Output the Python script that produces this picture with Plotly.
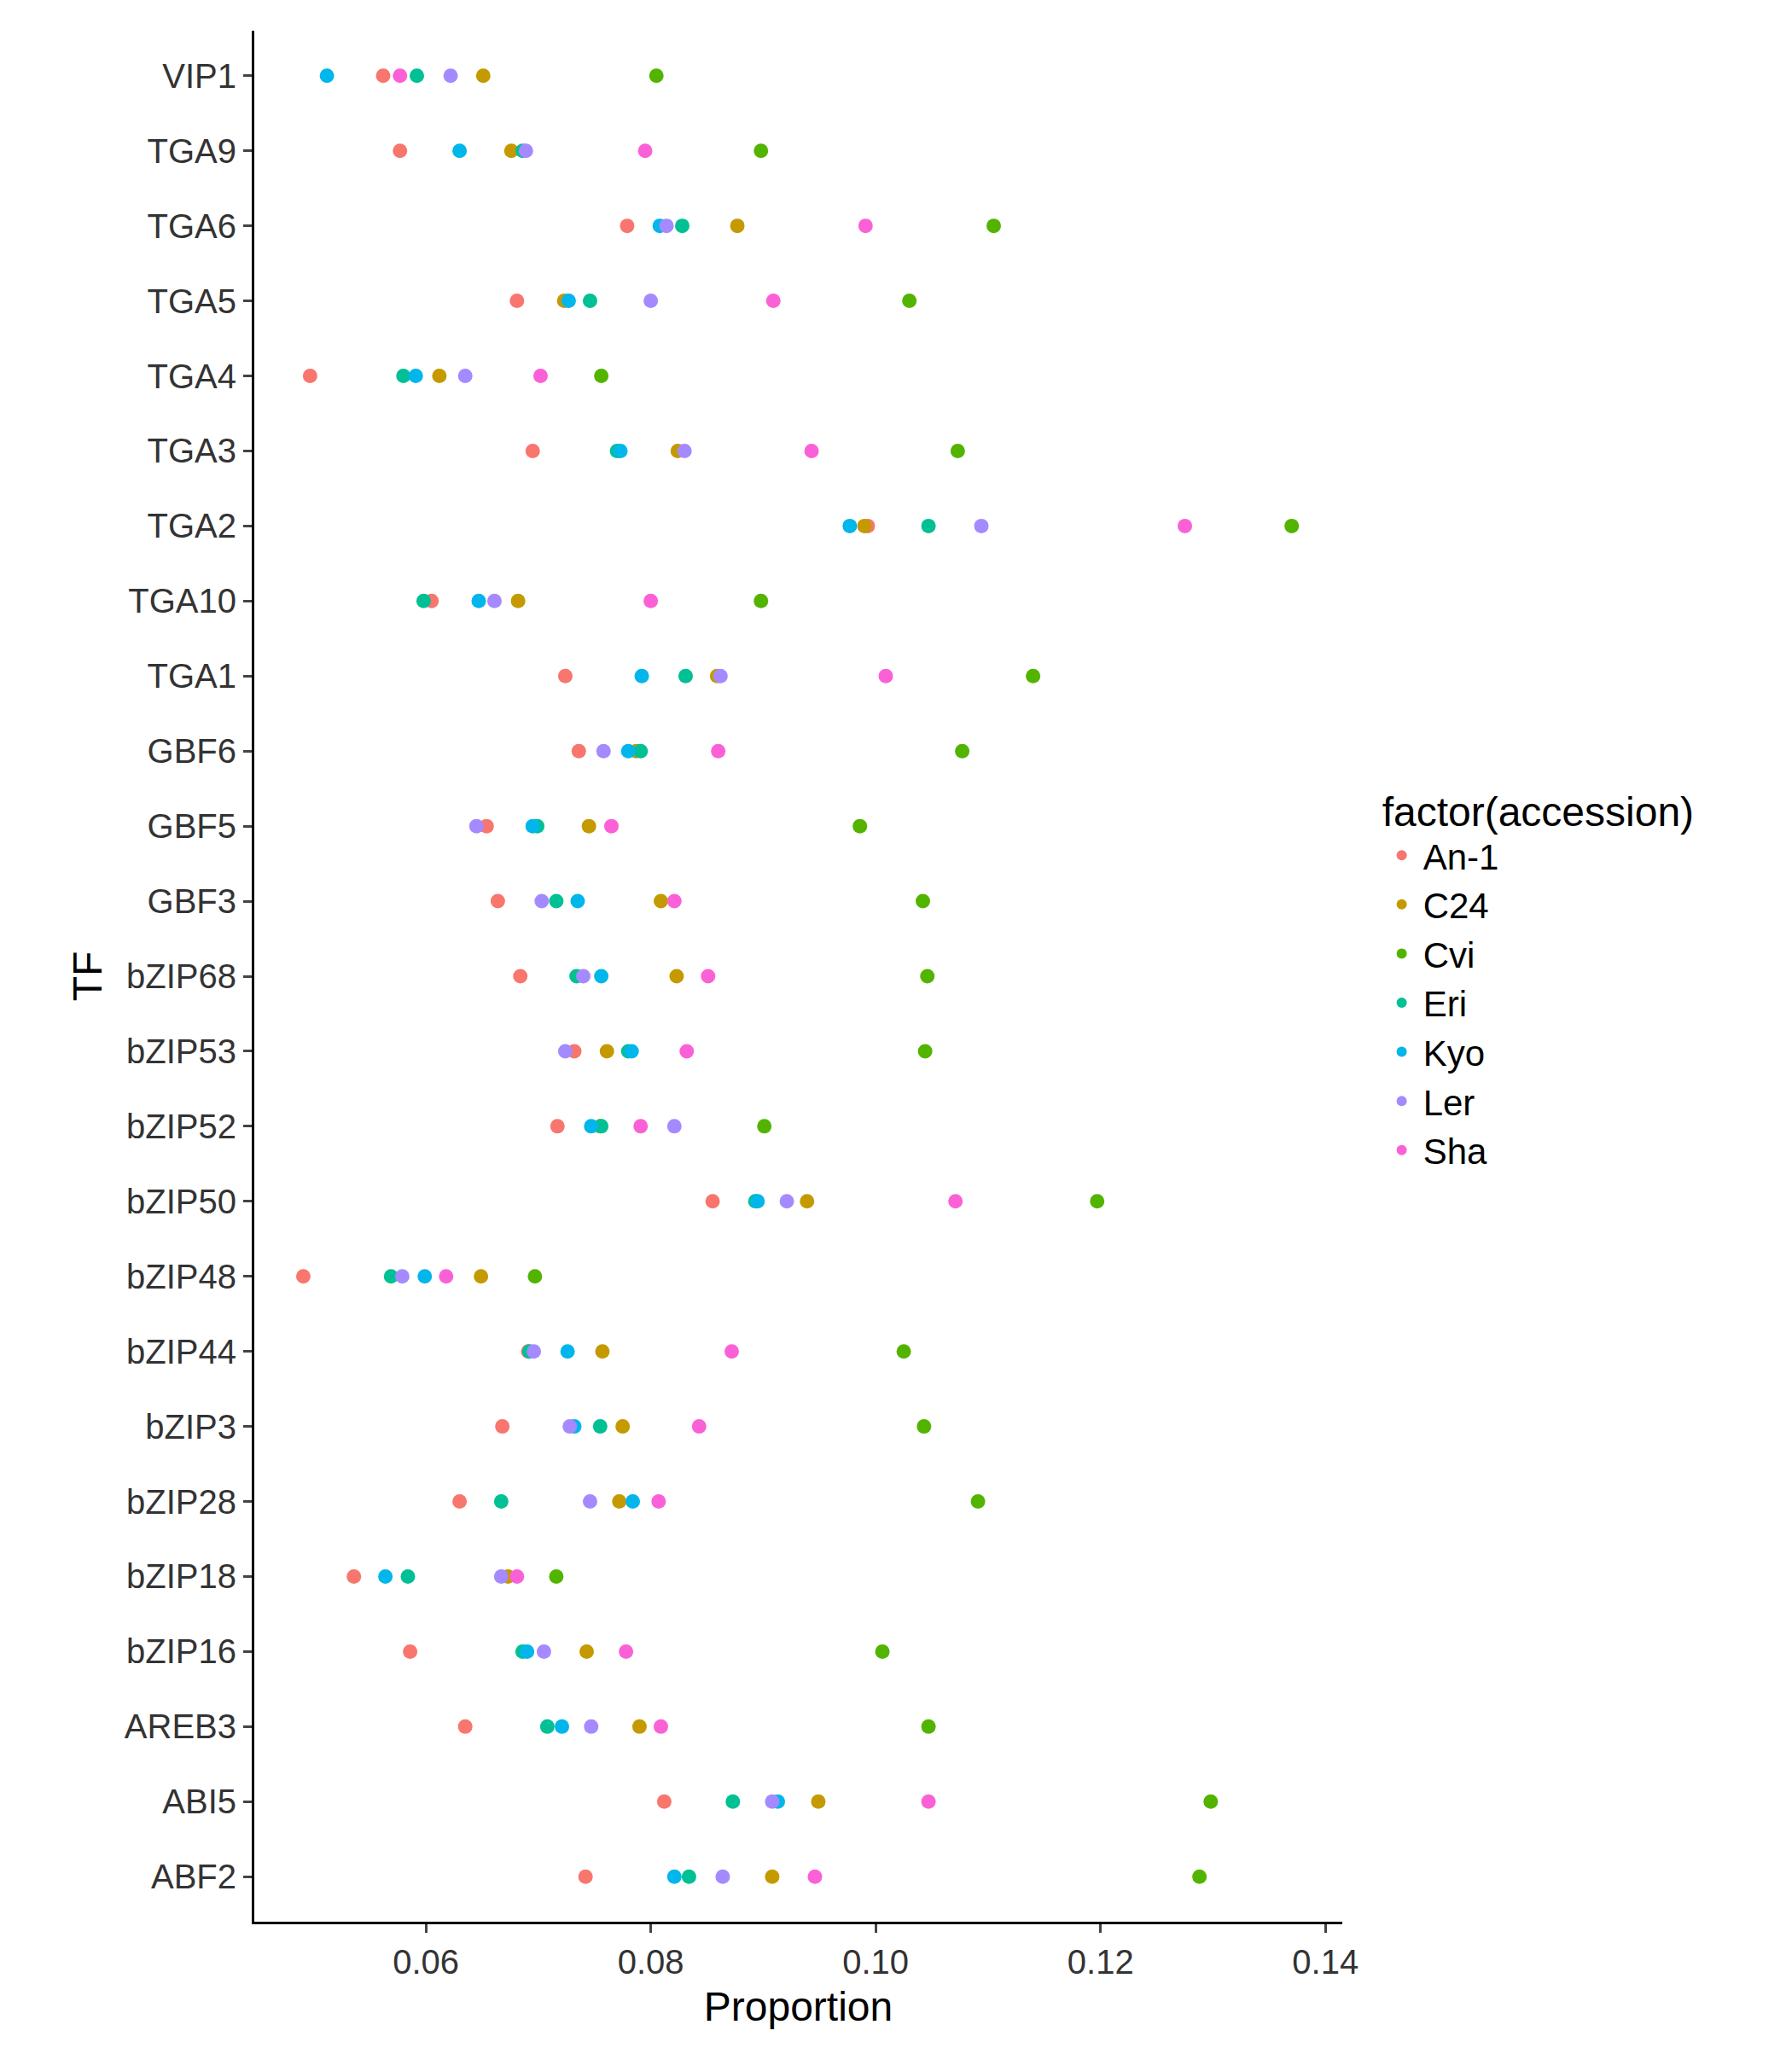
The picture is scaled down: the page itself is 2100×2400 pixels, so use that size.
import plotly.graph_objects as go

tfs = ["ABF2", "ABI5", "AREB3", "bZIP16", "bZIP18", "bZIP28", "bZIP3", "bZIP44",
       "bZIP48", "bZIP50", "bZIP52", "bZIP53", "bZIP68", "GBF3", "GBF5", "GBF6",
       "TGA1", "TGA10", "TGA2", "TGA3", "TGA4", "TGA5", "TGA6", "TGA9", "VIP1"]

accessions = ["An-1", "C24", "Cvi", "Eri", "Kyo", "Ler", "Sha"]
colors = ["#F8766D", "#C49A00", "#53B400", "#00C094", "#00B6EB", "#A58AFF", "#FB61D7"]

an1 = [0.0742, 0.0812, 0.0635, 0.0586, 0.0536, 0.0630, 0.0668, 0.0691, 0.0491, 0.0855,
       0.0717, 0.0732, 0.0684, 0.0664, 0.0654, 0.0736, 0.0724, 0.0605, 0.0993, 0.0695,
       0.0497, 0.0681, 0.0779, 0.0577, 0.0562]
c24 = [0.0908, 0.0949, 0.0790, 0.0743, 0.0673, 0.0772, 0.0775, 0.0757, 0.0649, 0.0939,
       0.0755, 0.0761, 0.0823, 0.0809, 0.0745, 0.0787, 0.0859, 0.0682, 0.0990, 0.0824,
       0.0612, 0.0723, 0.0877, 0.0676, 0.0651]
cvi = [0.1288, 0.1298, 0.1047, 0.1006, 0.0716, 0.1091, 0.1043, 0.1025, 0.0697, 0.1197,
       0.0901, 0.1044, 0.1046, 0.1042, 0.0986, 0.1077, 0.1140, 0.0898, 0.1370, 0.1073,
       0.0756, 0.1030, 0.1105, 0.0898, 0.0805]
eri = [0.0834, 0.0873, 0.0708, 0.0686, 0.0584, 0.0667, 0.0755, 0.0692, 0.0569, 0.0893,
       0.0756, 0.0780, 0.0734, 0.0716, 0.0699, 0.0791, 0.0831, 0.0598, 0.1047, 0.0770,
       0.0580, 0.0746, 0.0828, 0.0686, 0.0592]
kyo = [0.0821, 0.0913, 0.0721, 0.0690, 0.0564, 0.0784, 0.0732, 0.0726, 0.0599, 0.0895,
       0.0747, 0.0783, 0.0756, 0.0735, 0.0695, 0.0780, 0.0792, 0.0647, 0.0977, 0.0773,
       0.0591, 0.0727, 0.0808, 0.0630, 0.0512]
ler = [0.0864, 0.0908, 0.0747, 0.0705, 0.0667, 0.0746, 0.0728, 0.0696, 0.0579, 0.0921,
       0.0821, 0.0724, 0.0740, 0.0703, 0.0645, 0.0758, 0.0862, 0.0661, 0.1094, 0.0830,
       0.0635, 0.0800, 0.0814, 0.0689, 0.0622]
sha = [0.0946, 0.1047, 0.0809, 0.0778, 0.0681, 0.0807, 0.0843, 0.0872, 0.0618, 0.1071,
       0.0791, 0.0832, 0.0851, 0.0821, 0.0765, 0.0860, 0.1009, 0.0800, 0.1275, 0.0943,
       0.0702, 0.0909, 0.0991, 0.0795, 0.0577]

series = [an1, c24, cvi, eri, kyo, ler, sha]

fig = go.Figure()
for name, vals, col in zip(accessions, series, colors):
    fig.add_trace(go.Scatter(
        x=vals, y=tfs, mode="markers", name=name,
        marker=dict(color=col, size=17, line=dict(width=0)),
    ))

font = "Liberation Sans, Arial, sans-serif"
fig.update_layout(
    width=2100, height=2400,
    paper_bgcolor="white", plot_bgcolor="white",
    margin=dict(l=290, r=535, t=28, b=156),
    font=dict(family=font, color="black"),
    legend=dict(
        title=dict(text="factor(accession)", font=dict(size=48)),
        font=dict(size=42), x=1.035, xanchor="left", y=0.5, yanchor="middle",
        tracegroupgap=0, itemsizing="constant", itemwidth=40,
    ),
    xaxis=dict(
        range=[0.04474, 0.1415], tickvals=[0.06, 0.08, 0.10, 0.12, 0.14],
        ticktext=["0.06", "0.08", "0.10", "0.12", "0.14"],
        showgrid=False, zeroline=False, showline=True, linecolor="black", linewidth=3,
        ticks="outside", ticklen=10, tickwidth=3, tickfont=dict(size=40, color="#333333"),
        title=dict(text="Proportion", font=dict(size=48)),
    ),
    yaxis=dict(
        categoryorder="array", categoryarray=tfs, range=[-0.6, 24.6],
        showgrid=False, zeroline=False, showline=True, linecolor="black", linewidth=3,
        ticks="outside", ticklen=10, tickwidth=3, tickfont=dict(size=40, color="#333333"),
        title=dict(text="TF", font=dict(size=48), standoff=12),
    ),
)

fig.write_html("out.html")
